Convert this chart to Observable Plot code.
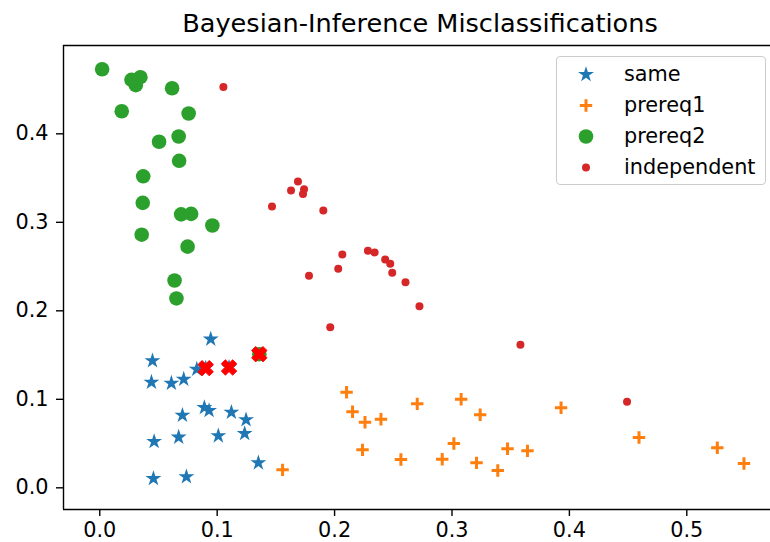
<!DOCTYPE html>
<html>
<head>
<meta charset="utf-8">
<script src="https://cdn.jsdelivr.net/npm/d3@7"></script>
<script src="https://cdn.jsdelivr.net/npm/@observablehq/plot@0.6"></script>
<style>
  body { margin: 0; background: #fff; font-family: "DejaVu Sans", sans-serif; }
  #wrap { position: relative; width: 770px; height: 542px; overflow: hidden; }
  #title { height: 40px; box-sizing: border-box; padding-top: 11px; padding-left: 70px;
           text-align: center; font-size: 25.6px; line-height: 25px; color: #000; white-space: nowrap; }
  #legend { position: absolute; left: 556px; top: 56px; width: 210px; height: 129px; box-sizing: border-box;
            border: 1.3px solid #cccccc; border-radius: 4px; background: rgba(255,255,255,0.8); padding-top: 2px; }
  .row { position: relative; height: 31px; }
  .row svg { position: absolute; left: 14px; top: 0; }
  .row span { position: absolute; left: 67px; top: 0; line-height: 31px; font-size: 20.8px; color: #000; }
  #chart svg { overflow: visible; }
</style>
</head>
<body>
<div id="wrap">
  <div id="title">Bayesian-Inference Misclassifications</div>
  <div id="chart"></div>
  <div id="legend"></div>
</div>
<script>
// ---- data ----
const sameX = [0.0945, 0.0449, 0.0440, 0.0610, 0.0715, 0.0826, 0.0902, 0.1101, 0.0891, 0.0931, 0.0704, 0.1121, 0.1246, 0.1234, 0.1010, 0.0672, 0.0463, 0.1351, 0.0457, 0.0738];
const sameY = [0.168, 0.1435, 0.1193, 0.1182, 0.1227, 0.134, 0.1352, 0.136, 0.0907, 0.0873, 0.082, 0.0854, 0.0768, 0.0613, 0.0587, 0.0572, 0.0523, 0.0282, 0.0105, 0.0124];

const prereq1X = [0.2102, 0.2153, 0.2259, 0.2395, 0.2238, 0.1557, 0.2565, 0.2704, 0.3078, 0.3240, 0.3016, 0.2917, 0.3209, 0.3390, 0.3473, 0.3643, 0.3929, 0.4593, 0.5260, 0.5487];
const prereq1Y = [0.108, 0.0859, 0.0741, 0.0775, 0.0429, 0.0203, 0.032, 0.0949, 0.1001, 0.0825, 0.05, 0.0323, 0.0282, 0.0195, 0.0442, 0.0418, 0.0904, 0.0568, 0.0452, 0.0275];

const prereq2X = [0.0020, 0.0270, 0.0346, 0.0307, 0.0616, 0.0187, 0.0757, 0.0672, 0.0505, 0.0676, 0.0370, 0.0366, 0.0693, 0.0778, 0.0959, 0.0357, 0.0748, 0.0637, 0.0653, 0.1359];
const prereq2Y = [0.473, 0.461, 0.464, 0.455, 0.4515, 0.4255, 0.423, 0.397, 0.391, 0.3695, 0.352, 0.322, 0.309, 0.3096, 0.2964, 0.286, 0.2725, 0.2343, 0.214, 0.151];

const independentX = [0.1053, 0.1688, 0.1629, 0.1740, 0.1731, 0.1467, 0.1904, 0.2066, 0.2031, 0.1782, 0.2284, 0.2341, 0.2431, 0.2474, 0.2491, 0.2604, 0.2723, 0.1963, 0.3583, 0.4491];
const independentY = [0.453, 0.346, 0.336, 0.3374, 0.332, 0.318, 0.3133, 0.2636, 0.2474, 0.2395, 0.2678, 0.2659, 0.258, 0.2531, 0.2429, 0.2323, 0.2052, 0.1815, 0.1616, 0.0972];

const misclassifiedX = [0.0902, 0.1101, 0.1359];
const misclassifiedY = [0.1352, 0.136, 0.151];

const seriesNames = ["same", "prereq1", "prereq2", "independent"];
const xTicks = [0.0, 0.1, 0.2, 0.3, 0.4, 0.5];
const yTicks = [0.0, 0.1, 0.2, 0.3, 0.4];
const xDomain = [-0.0309, 0.5713];
const yDomain = [-0.0245, 0.4998];

// ---- helpers ----
const pts = (xs, ys) => xs.map((x, i) => ({x, y: ys[i]}));
const same = pts(sameX, sameY);
const prereq1 = pts(prereq1X, prereq1Y);
const prereq2 = pts(prereq2X, prereq2Y);
const independent = pts(independentX, independentY);
const misclassified = pts(misclassifiedX, misclassifiedY);

// custom symbols: r = sqrt(size/π) is the half-extent
const plusSymbol = {
  draw(ctx, size) {
    const r = Math.sqrt(size / Math.PI);
    ctx.moveTo(-r, 0); ctx.lineTo(r, 0);
    ctx.moveTo(0, -r); ctx.lineTo(0, r);
  }
};
const filledX = {
  draw(ctx, size) {
    const r = Math.sqrt(size / Math.PI);
    const w = r * 0.36;
    const p = [[w,-r],[w,-w],[r,-w],[r,w],[w,w],[w,r],[-w,r],[-w,w],[-r,w],[-r,-w],[-w,-w],[-w,-r]];
    const c = Math.SQRT1_2;
    p.forEach(([x, y], i) => {
      const rx = (x - y) * c, ry = (x + y) * c;
      if (i === 0) ctx.moveTo(rx, ry); else ctx.lineTo(rx, ry);
    });
    ctx.closePath();
  }
};

const colors = {same: "#1f77b4", prereq1: "#ff7f0e", prereq2: "#2ca02c", independent: "#d62728"};

const chart = Plot.plot({
  width: 770,
  height: 502,
  marginTop: 5,
  marginBottom: 33,
  marginLeft: 63,
  marginRight: 0,
  style: {fontFamily: "DejaVu Sans", fontSize: "20.8px", color: "#000", background: "transparent"},
  x: {domain: xDomain, label: null},
  y: {domain: yDomain, label: null},
  marks: [
    Plot.dot(same, {x: "x", y: "y", symbol: "star", r: 5, fill: colors.same}),
    Plot.dot(prereq1, {x: "x", y: "y", symbol: plusSymbol, r: 6.2, fill: "none", stroke: colors.prereq1, strokeWidth: 3}),
    Plot.dot(prereq2, {x: "x", y: "y", symbol: "circle", r: 7.3, fill: colors.prereq2}),
    Plot.dot(independent, {x: "x", y: "y", symbol: "circle", r: 4, fill: colors.independent}),
    Plot.dot(misclassified, {x: "x", y: "y", symbol: filledX, r: 8, fill: "#ff0000", stroke: "#ff0000", strokeWidth: 1}),
    Plot.ruleY([yDomain[0], yDomain[1]], {stroke: "#000", strokeWidth: 1.4}),
    Plot.ruleX([xDomain[0]], {stroke: "#000", strokeWidth: 1.4}),
    Plot.axisX({ticks: xTicks, tickFormat: d => d.toFixed(1), tickSize: 7, tickPadding: 6, strokeWidth: 1.4, label: null}),
    Plot.axisY({ticks: yTicks, tickFormat: d => d.toFixed(1), tickSize: 7, tickPadding: 8, strokeWidth: 1.4, label: null})
  ]
});
document.getElementById("chart").appendChild(chart);

// ---- legend ----
const legendSymbols = {
  same: {type: d3.symbolStar, r: 5, fill: colors.same, stroke: "none", sw: 0},
  prereq1: {type: plusSymbol, r: 6.2, fill: "none", stroke: colors.prereq1, sw: 3},
  prereq2: {type: d3.symbolCircle, r: 7.3, fill: colors.prereq2, stroke: "none", sw: 0},
  independent: {type: d3.symbolCircle, r: 4, fill: colors.independent, stroke: "none", sw: 0}
};
const legend = d3.select("#legend");
seriesNames.forEach(name => {
  const s = legendSymbols[name];
  const row = legend.append("div").attr("class", "row");
  const svg = row.append("svg").attr("width", 30).attr("height", 31);
  svg.append("path")
    .attr("transform", "translate(15,15.5)")
    .attr("d", d3.symbol(s.type, Math.PI * s.r * s.r)())
    .attr("fill", s.fill).attr("stroke", s.stroke).attr("stroke-width", s.sw);
  row.append("span").text(name);
});
</script>
</body>
</html>
